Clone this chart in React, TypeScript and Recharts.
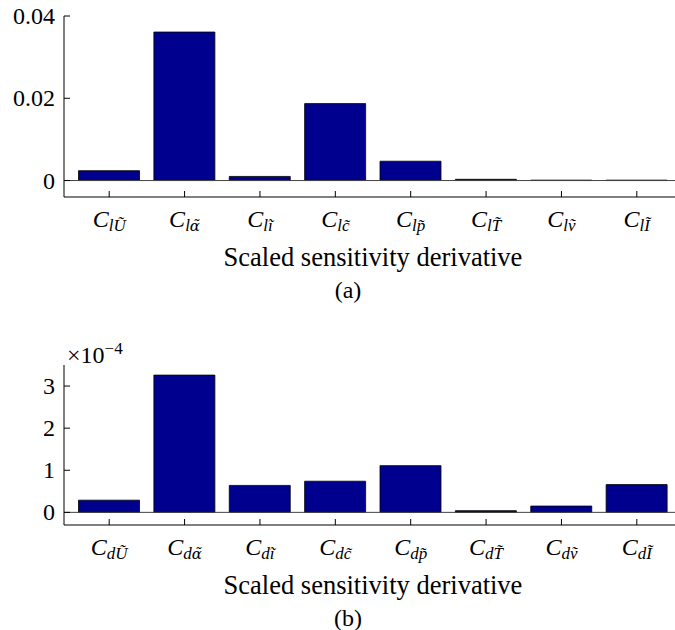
import { Bar, BarChart, ReferenceLine, XAxis, YAxis } from "recharts"

const SYMBOLS = ["Ũ", "α̃", "ĩ", "c̃", "p̃", "T̃", "ṽ", "Ĩ"]
const LIFT_VALUES = [0.0024, 0.0361, 0.001, 0.0187, 0.0047, 0.0003, 0.0001, 0.0001]
const DRAG_VALUES = [0.29, 3.26, 0.64, 0.74, 1.11, 0.04, 0.15, 0.66] // x 1e-4
const LIFT_TICKS = [0, 0.02, 0.04]
const DRAG_TICKS = [0, 1, 2, 3]

const FONT = "Liberation Serif"
const BAR_COLOR = "#00008F"

const liftData = SYMBOLS.map((s, i) => ({ name: s, value: LIFT_VALUES[i] }))
const dragData = SYMBOLS.map((s, i) => ({ name: s, value: DRAG_VALUES[i] }))

const serif = { fontFamily: FONT }

// Liberation Serif can't stack a combining tilde on alpha; DejaVu Serif can
function Symbol({ s }: { s: string }) {
  const fam = s === "α̃" ? "DejaVu Serif" : FONT
  return <tspan style={{ fontFamily: fam, fontSize: s === "α̃" ? 15 : 17 }}>{s}</tspan>
}

function makeBottomTick(prefix: string) {
  return function BottomTick(props: any) {
    const { x, y, payload } = props
    return (
      <g>
        <line x1={x} y1={y} x2={x} y2={y - 6} stroke="#000" />
        <text x={x} y={y + 30} textAnchor="middle" fill="#000" style={{ ...serif, fontStyle: "italic", fontSize: 24 }}>
          <tspan style={serif}>C</tspan>
          <tspan style={{ ...serif, fontSize: 17 }} dy={4}>
            {prefix}
          </tspan>
          <Symbol s={payload.value} />
        </text>
      </g>
    )
  }
}

function TopTick(props: any) {
  const { x, y } = props
  return <line x1={x} y1={y} x2={x} y2={y + 6} stroke="#000" />
}

function makeYTick(fmt: (v: number) => string) {
  return function YTick(props: any) {
    const { x, y, payload } = props
    return (
      <g>
        <line x1={x} y1={y} x2={x + 6} y2={y} stroke="#000" />
        <text x={x - 9} y={y + 8} textAnchor="end" fill="#000" style={{ ...serif, fontSize: 24 }}>
          {fmt(payload.value)}
        </text>
      </g>
    )
  }
}

function makeXLabel(tag: string) {
  return function XLabel(props: any) {
    const { viewBox } = props
    const cx = viewBox.x + viewBox.width / 2
    return (
      <g fill="#000">
        <text x={cx} y={viewBox.y + 69} textAnchor="middle" style={{ ...serif, fontSize: 26.5 }}>
          Scaled sensitivity derivative
        </text>
        <text x={348} y={viewBox.y + 101} textAnchor="middle" style={{ ...serif, fontSize: 24 }}>
          {tag}
        </text>
      </g>
    )
  }
}

function ExpLabel(props: any) {
  const { viewBox } = props
  return (
    <text x={viewBox.x + viewBox.width + 3} y={viewBox.y - 2} fill="#000" style={serif}>
      <tspan style={{ ...serif, fontSize: 24 }}>×10</tspan>
      <tspan style={{ ...serif, fontSize: 17 }} dy={-9}>−4</tspan>
    </text>
  )
}

type PanelProps = {
  data: { name: string; value: number }[]
  height: number
  top: number
  axisHeight: number
  domain: [number, number]
  ticks: number[]
  prefix: string
  tag: string
  fmt: (v: number) => string
  exponent?: boolean
}

function Panel({ data, height, top, axisHeight, domain, ticks, prefix, tag, fmt, exponent }: PanelProps) {
  return (
    <BarChart
      width={700}
      height={height}
      data={data}
      margin={{ top, right: 18, bottom: 0, left: 0 }}
      barSize={61}
    >
      <XAxis
        dataKey="name"
        xAxisId="bottom"
        height={axisHeight}
        padding={{ left: 7.5, right: 7.5 }}
        tickSize={0}
        tickMargin={0}
        tickLine={false}
        axisLine={{ stroke: "#000" }}
        tick={makeBottomTick(prefix)}
        interval={0}
        label={{ content: makeXLabel(tag) }}
      />
      <XAxis
        dataKey="name"
        xAxisId="top"
        orientation="top"
        height={0}
        padding={{ left: 7.5, right: 7.5 }}
        tickSize={0}
        tickMargin={0}
        tickLine={false}
        axisLine={{ stroke: "#000" }}
        tick={TopTick}
        interval={0}
      />
      <YAxis
        width={64}
        domain={domain}
        ticks={ticks}
        type="number"
        allowDataOverflow
        tickSize={0}
        tickMargin={0}
        tickLine={false}
        axisLine={{ stroke: "#000" }}
        tick={makeYTick(fmt)}
        label={exponent ? { content: ExpLabel } : undefined}
      />
      <Bar
        dataKey="value"
        xAxisId="bottom"
        fill={BAR_COLOR}
        stroke="#000"
        strokeWidth={0.8}
        isAnimationActive={false}
      />
      <ReferenceLine y={0} xAxisId="bottom" stroke="#444" strokeWidth={1} />
    </BarChart>
  )
}

export default function App() {
  return (
    <div
      style={{
        position: "absolute",
        left: 0,
        top: 0,
        width: 675,
        height: 630,
        overflow: "hidden",
        background: "#fff",
        fontFamily: FONT,
      }}
    >
      <Panel
        data={liftData}
        height={310}
        top={16}
        axisHeight={113}
        domain={[-0.004, 0.04]}
        ticks={LIFT_TICKS}
        prefix="l"
        tag="(a)"
        fmt={(v) => (v === 0 ? "0" : v.toFixed(2))}
      />
      <Panel
        data={dragData}
        height={320}
        top={55}
        axisHeight={105}
        domain={[-0.3, 3.5]}
        ticks={DRAG_TICKS}
        prefix="d"
        tag="(b)"
        fmt={(v) => String(v)}
        exponent
      />
    </div>
  )
}
